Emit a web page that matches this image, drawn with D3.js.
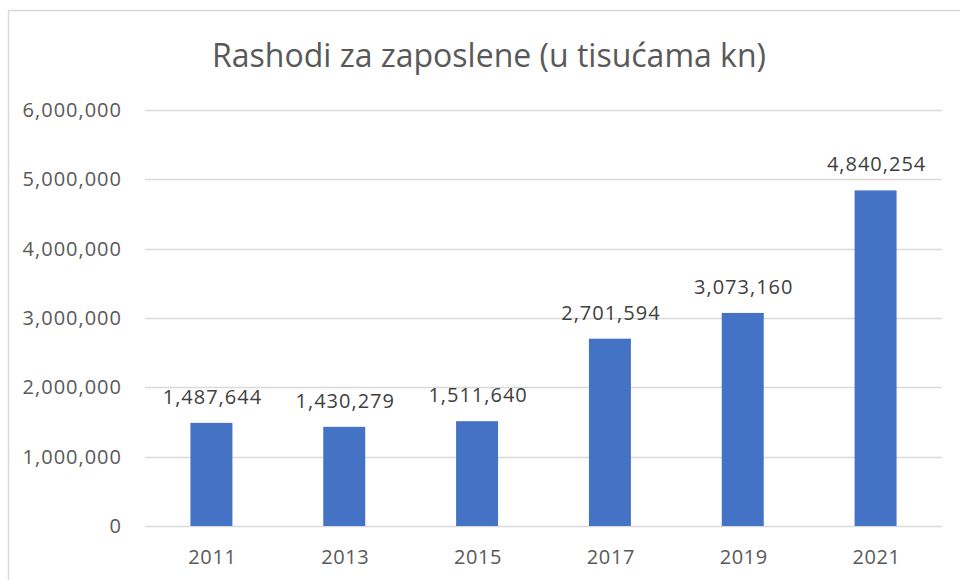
<!DOCTYPE html>
<html>
<head>
<meta charset="utf-8">
<script src="https://cdn.jsdelivr.net/npm/d3@7"></script>
<style>
  body { margin: 0; background: #fff; }
  text { font-family: "Open Sans", "Noto Sans", sans-serif; }
</style>
</head>
<body>
<script>
// data
const years = ["2011", "2013", "2015", "2017", "2019", "2021"];
const values = [1487644, 1430279, 1511640, 2701594, 3073160, 4840254];
const yTicks = [0, 1000000, 2000000, 3000000, 4000000, 5000000, 6000000];
const title = "Rashodi za zaposlene (u tisućama kn)";

const width = 960;
const height = 580;
const margin = { top: 110, right: 18, bottom: 54, left: 145 };

const svg = d3.select("body")
    .append("svg")
    .attr("width", width)
    .attr("height", height);

// chart frame
svg.append("rect")
    .attr("x", 8.5)
    .attr("y", 10.5)
    .attr("width", 960)
    .attr("height", 600)
    .attr("fill", "white")
    .attr("stroke", "#d9d9d9")
    .attr("stroke-width", 1.5);

const x = d3.scaleBand()
    .domain(years)
    .range([margin.left, width - margin.right])
    .paddingInner(0.684)
    .paddingOuter(0.342);

const y = d3.scaleLinear()
    .domain([0, 6000000])
    .range([height - margin.bottom, margin.top]);

const fmt = d3.format(",");

// gridlines
svg.append("g")
    .selectAll("line")
    .data(yTicks)
    .enter()
    .append("line")
    .attr("x1", margin.left)
    .attr("x2", width - margin.right)
    .attr("y1", d => Math.round(y(d)) + 0.5)
    .attr("y2", d => Math.round(y(d)) + 0.5)
    .attr("stroke", "#d9d9d9")
    .attr("stroke-width", 1.5);

// y labels
svg.append("g")
    .selectAll("text")
    .data(yTicks)
    .enter()
    .append("text")
    .attr("x", 122)
    .attr("y", d => y(d))
    .attr("dy", "0.35em")
    .attr("text-anchor", "end")
    .attr("fill", "#595959")
    .style("font-size", "20px")
    .style("letter-spacing", "1px")
    .text(d => fmt(d));

// bars
svg.append("g")
    .selectAll("rect")
    .data(values)
    .enter()
    .append("rect")
    .attr("x", (d, i) => x(years[i]))
    .attr("y", d => y(d))
    .attr("width", x.bandwidth())
    .attr("height", d => y(0) - y(d))
    .attr("fill", "#4472c4");

// value labels
svg.append("g")
    .selectAll("text")
    .data(values)
    .enter()
    .append("text")
    .attr("x", (d, i) => x(years[i]) + x.bandwidth() / 2 + 1)
    .attr("y", d => y(d) - 19)
    .attr("text-anchor", "middle")
    .attr("fill", "#404040")
    .style("font-size", "20px")
    .style("letter-spacing", "1px")
    .text(d => fmt(d));

// x labels
svg.append("g")
    .selectAll("text")
    .data(years)
    .enter()
    .append("text")
    .attr("x", d => x(d) + x.bandwidth() / 2 + 1)
    .attr("y", 564)
    .attr("text-anchor", "middle")
    .attr("fill", "#595959")
    .style("font-size", "20px")
    .style("letter-spacing", "0.6px")
    .text(d => d);

// title
svg.append("text")
    .attr("x", 489)
    .attr("y", 67)
    .attr("text-anchor", "middle")
    .attr("fill", "#595959")
    .style("font-size", "32px")
    .text(title);
</script>
</body>
</html>
